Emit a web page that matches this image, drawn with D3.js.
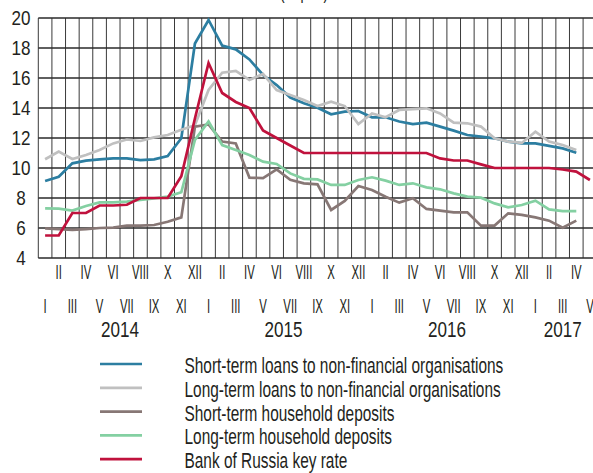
<!DOCTYPE html>
<html>
<head>
<meta charset="utf-8">
<script src="https://cdnjs.cloudflare.com/ajax/libs/d3/7.8.5/d3.min.js"></script>
<style>
  html, body { margin: 0; padding: 0; background: #fff; overflow: hidden; }
  svg { display: block; }
  text { font-family: "Liberation Sans", Arial, sans-serif; fill: #231f20; }
</style>
</head>
<body>
<script>
// ---------- DATA ----------
const months = ["I","II","III","IV","V","VI","VII","VIII","IX","X","XI","XII",
                "I","II","III","IV","V","VI","VII","VIII","IX","X","XI","XII",
                "I","II","III","IV","V","VI","VII","VIII","IX","X","XI","XII",
                "I","II","III","IV","V"];
const years = [
  {label: "2014", from: 0, to: 11},
  {label: "2015", from: 12, to: 23},
  {label: "2016", from: 24, to: 35},
  {label: "2017", from: 36, to: 40}
];
const yTicks = [4, 6, 8, 10, 12, 14, 16, 18, 20];

const shortTermLoans = [9.13, 9.42, 10.31, 10.49, 10.58, 10.64, 10.64, 10.53, 10.58, 10.8, 11.98, 18.3,
  19.87, 18.16, 17.91, 17.24, 16.2, 15.53, 14.7, 14.31, 14.02, 13.58, 13.76, 13.8,
  13.38, 13.38, 13.1, 12.93, 13.02, 12.76, 12.49, 12.2, 12.09, 11.98, 11.76, 11.64,
  11.64, 11.47, 11.31, 11.02];
const longTermLoans = [10.58, 11.09, 10.6, 10.87, 11.2, 11.64, 11.9, 11.8, 12.04, 12.2, 12.55, 12.85,
  15.2, 16.35, 16.47, 15.87, 16.27, 15.2, 14.87, 14.53, 14.13, 14.42, 14.13, 12.93,
  13.64, 13.38, 13.87, 13.93, 13.98, 13.64, 13.02, 12.98, 12.76, 11.98, 11.76, 11.67,
  12.42, 11.76, 11.53, 11.2];
const shortTermDeposits = [5.98, 5.93, 5.87, 5.93, 6.0, 6.02, 6.16, 6.16, 6.2, 6.42, 6.71, 12.75,
  12.9, 11.76, 11.64, 9.36, 9.33, 9.91, 9.22, 8.98, 8.91, 7.2, 7.8, 8.8,
  8.53, 8.09, 7.69, 7.98, 7.27, 7.16, 7.04, 7.04, 6.16, 6.16, 6.98, 6.87,
  6.71, 6.49, 6.02, 6.49];
const longTermDeposits = [7.31, 7.29, 7.16, 7.47, 7.71, 7.71, 7.76, 7.87, 7.98, 8.09, 8.38, 11.87,
  13.1, 11.53, 11.2, 10.87, 10.42, 10.27, 9.64, 9.28, 9.24, 8.87, 8.87, 9.2,
  9.38, 9.16, 8.87, 8.98, 8.71, 8.58, 8.31, 8.09, 8.02, 7.64, 7.38, 7.53,
  7.82, 7.24, 7.13, 7.13];
const keyRate = [5.5, 5.5, 7.0, 7.0, 7.5, 7.5, 7.55, 8.0, 8.0, 8.0, 9.45, 13.3,
  17.0, 15.0, 14.4, 14.0, 12.5, 12.0, 11.5, 11.0, 11.0, 11.0, 11.0, 11.0,
  11.0, 11.0, 11.0, 11.0, 11.0, 10.64, 10.5, 10.5, 10.24, 10.0, 10.0, 10.0,
  10.0, 10.0, 9.9, 9.76, 9.2];

const seriesNames = ["Short-term loans to non-financial organisations",
                     "Long-term loans to non-financial organisations",
                     "Short-term household deposits",
                     "Long-term household deposits",
                     "Bank of Russia key rate"];
const seriesColors = ["#2c7ea1", "#c0c0c0", "#877775", "#84d0a2", "#c0123d"];
const seriesValues = [shortTermLoans, longTermLoans, shortTermDeposits, longTermDeposits, keyRate];
const titleText = "(% p.a.)";

// ---------- LAYOUT ----------
const W = 593, H = 473;
const left = 38.3, bandW = 13.62;
const svg = d3.select("body").append("svg").attr("width", W).attr("height", H);

const x = d3.scaleBand().domain(d3.range(months.length))
  .range([left, left + bandW * months.length]).paddingInner(0).paddingOuter(0);
const y = d3.scaleLinear().domain([4, 20]).range([258, 18]);
const cx = i => x(i) + x.bandwidth() / 2;

function fitText(sel, target) {
  const n = sel.node();
  const w = n.getComputedTextLength();
  return w > 0 ? target / w : 1;
}

// title (partly cut off at top, as in the reference)
const probeT = svg.append("text").attr("font-size", 20).text(titleText);
const sT = fitText(probeT, 48);
probeT.remove();
svg.append("text").attr("text-anchor", "middle")
  .attr("font-size", 20)
  .attr("transform", `translate(304,-1) scale(${sT},1)`)
  .text(titleText);

// ---------- GRID ----------
const grid = svg.append("g");
const bounds = d3.range(months.length + 1).map(i => i < months.length ? x(i) : x(months.length - 1) + x.bandwidth());
grid.selectAll("line.v").data(bounds).join("line")
  .attr("x1", d => d).attr("x2", d => d)
  .attr("y1", y(20)).attr("y2", y(4))
  .attr("stroke", "#3a3a3a").attr("stroke-width", 1);
grid.selectAll("line.h").data(yTicks).join("line")
  .attr("x1", left).attr("x2", W + 10)
  .attr("y1", d => y(d)).attr("y2", d => y(d))
  .attr("stroke", "#2a2a2a").attr("stroke-width", 1.3);

// y tick labels
const probeY = svg.append("text").attr("font-size", 20).text("20");
const sY = fitText(probeY, 19);
probeY.remove();
svg.append("g").selectAll("text").data(yTicks).join("text")
  .attr("font-size", 20).attr("text-anchor", "middle")
  .attr("transform", d => `translate(21,${y(d) + 7.2}) scale(${sY},1)`)
  .text(d => d);

// month labels
const probeM = svg.append("text").attr("font-size", 21).text("VIII");
const sM = fitText(probeM, 17);
probeM.remove();
svg.append("g").selectAll("text").data(months).join("text")
  .attr("font-size", 21).attr("text-anchor", "middle")
  .attr("transform", (d, i) => `translate(${cx(i)},${i % 2 === 1 ? 278.5 : 313}) scale(${sM},1)`)
  .text(d => d);

// year labels
const probeYr = svg.append("text").attr("font-size", 22).text("2014");
const sYr = fitText(probeYr, 38);
probeYr.remove();
svg.append("g").selectAll("text").data(years).join("text")
  .attr("font-size", 22).attr("text-anchor", "middle")
  .attr("transform", d => `translate(${(x(d.from) + x(d.to) + x.bandwidth()) / 2},336.5) scale(${sYr},1)`)
  .text(d => d.label);

// ---------- LINES ----------
const line = d3.line().x((d, i) => cx(i)).y(d => y(d)).curve(d3.curveLinear);
const drawOrder = [0, 1, 2, 3, 4];
svg.append("g").selectAll("path").data(drawOrder).join("path")
  .attr("d", k => line(seriesValues[k]))
  .attr("fill", "none")
  .attr("stroke", k => seriesColors[k])
  .attr("stroke-width", 2.7)
  .attr("stroke-linejoin", "miter")
  .attr("stroke-linecap", "butt");

// ---------- LEGEND ----------
const probeL = svg.append("text").attr("font-size", 22).text(seriesNames[0]);
const sL = fitText(probeL, 319);
probeL.remove();
const leg = svg.append("g");
seriesNames.forEach((name, i) => {
  const ly = 364 + i * 23.8;
  leg.append("line").attr("x1", 100).attr("x2", 142).attr("y1", ly).attr("y2", ly)
    .attr("stroke", seriesColors[i]).attr("stroke-width", 2.7);
  leg.append("text").attr("font-size", 22)
    .attr("transform", `translate(184.5,${ly + 9}) scale(${sL},1)`)
    .text(name);
});
</script>
</body>
</html>
